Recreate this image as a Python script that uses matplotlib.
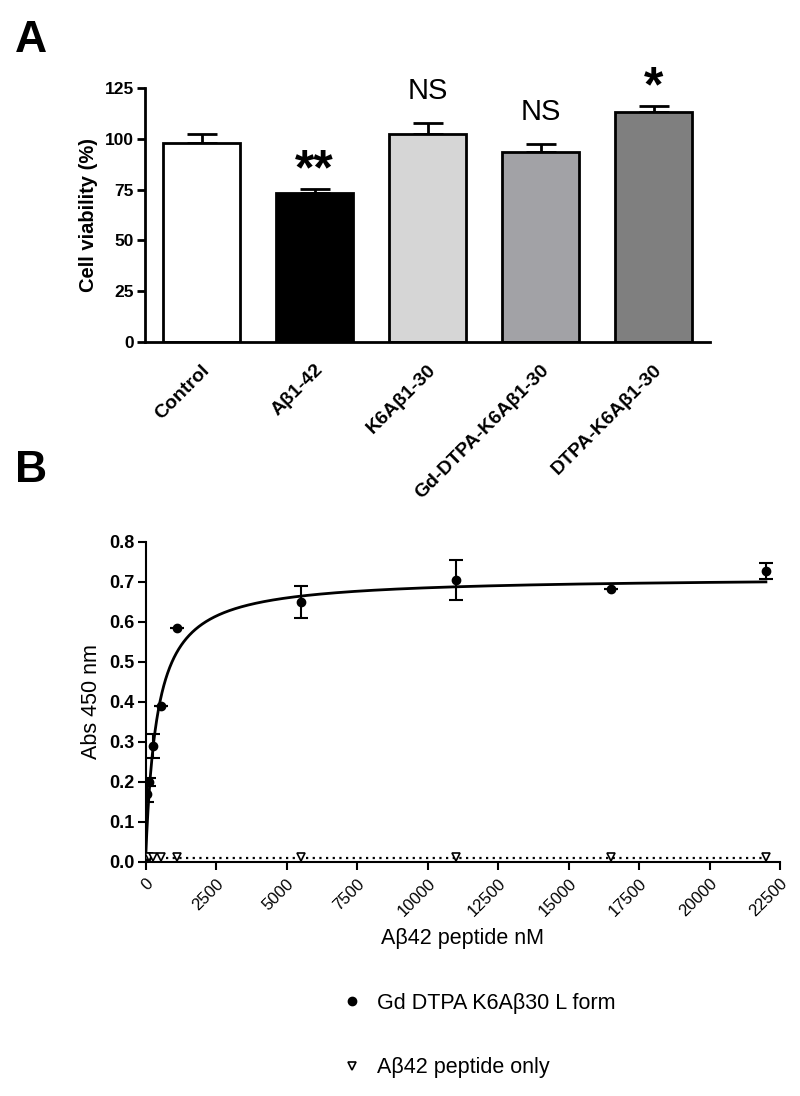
import numpy as np
import matplotlib
matplotlib.use("Agg")
import matplotlib.pyplot as plt
from matplotlib.lines import Line2D

plt.rcParams['font.family'] = ['Liberation Sans', 'DejaVu Sans']

# ---- Panel A data ----
groups = ["Control", "Aβ1-42", "K6Aβ1-30", "Gd-DTPA-K6Aβ1-30", "DTPA-K6Aβ1-30"]
viability = [97.8, 73.4, 102.2, 93.7, 113.3]
viability_err = [4.6, 1.9, 5.4, 3.6, 2.8]
bar_colors = ["#ffffff", "#000000", "#d6d6d6", "#a2a2a6", "#7f7f7f"]
sig_labels = ["", "**", "NS", "NS", "*"]
a_yticks = [0, 25, 50, 75, 100, 125]

# ---- Panel B data ----
gd_x = [0, 68.75, 137.5, 275, 550, 1100, 5500, 11000, 16500, 22000]
gd_y = [0.01, 0.17, 0.20, 0.29, 0.39, 0.585, 0.65, 0.706, 0.683, 0.727]
gd_err = [0.0, 0.02, 0.01, 0.03, 0.0, 0.0, 0.04, 0.05, 0.0, 0.02]
pep_x = [68.75, 137.5, 275, 550, 1100, 5500, 11000, 16500, 22000]
pep_y = [0.012, 0.012, 0.012, 0.012, 0.012, 0.012, 0.012, 0.012, 0.012]
fit_bmax = 0.713
fit_kd = 400.0
pep_level = 0.01
b_xticks = [0, 2500, 5000, 7500, 10000, 12500, 15000, 17500, 20000, 22500]
b_yticks = [0.0, 0.1, 0.2, 0.3, 0.4, 0.5, 0.6, 0.7, 0.8]

W, H = 800, 1096
fig = plt.figure(figsize=(W / 100, H / 100), dpi=100)

def fx(px):
    return px / W

def fy(py):
    return 1 - py / H

# ---------------- Panel A ----------------
axA = fig.add_axes([fx(145), fy(342), fx(710) - fx(145), fy(88) - fy(342)])
xpos = np.arange(len(groups))
axA.bar(xpos, viability, width=0.68, color=bar_colors, edgecolor="black",
        linewidth=2, zorder=2)
axA.errorbar(xpos, viability, yerr=[np.zeros(len(groups)), viability_err],
             fmt="none", ecolor="black", elinewidth=2, capsize=10.5,
             capthick=2, zorder=1)
axA.set_xlim(-0.5, 4.5)
axA.set_ylim(0, 125)
axA.set_yticks(a_yticks)
axA.set_yticklabels([str(v) for v in a_yticks], fontsize=12.5, fontweight="bold")
axA.set_xticks(xpos)
axA.set_xticklabels(groups, rotation=45, ha="right", va="top",
                    rotation_mode="anchor", fontsize=14, fontweight="bold")
axA.tick_params(axis="x", length=0, pad=14)
axA.tick_params(axis="y", length=6, width=2, direction="out", pad=2)
for s in ["top", "right"]:
    axA.spines[s].set_visible(False)
for s in ["left", "bottom"]:
    axA.spines[s].set_linewidth(2)
axA.set_ylabel("Cell viability (%)", fontsize=14.5, fontweight="bold", labelpad=5)
for i, lab in enumerate(sig_labels):
    if not lab:
        continue
    top = viability[i] + viability_err[i]
    if lab == "NS":
        axA.text(i, top + 9, lab, ha="center", va="bottom", fontsize=21)
    else:
        axA.text(i, top - 2.5, lab, ha="center", va="bottom", fontsize=36,
                 fontweight="bold")

fig.text(fx(15), fy(40), "A", fontsize=32, fontweight="bold", va="center")
fig.text(fx(15), fy(470), "B", fontsize=32, fontweight="bold", va="center")

# ---------------- Panel B ----------------
axB = fig.add_axes([fx(145.5), fy(862), fx(780) - fx(145.5), fy(542) - fy(862)])
xx = np.linspace(0, 22000, 2000)
axB.plot(xx, fit_bmax * xx / (fit_kd + xx), color="black", lw=2, zorder=3)
axB.plot([0, 22000], [pep_level, pep_level], color="black", lw=1.6,
         linestyle=(0, (1, 2)), zorder=2)
axB.errorbar(gd_x, gd_y, yerr=gd_err, fmt="o", color="black", markersize=6,
             elinewidth=1.5, capsize=5, capthick=1.5, zorder=4)
axB.plot(pep_x, pep_y, linestyle="none", marker="v", markersize=6,
         markerfacecolor="white", markeredgecolor="black", markeredgewidth=1.2,
         zorder=5)
axB.set_xlim(0, 22500)
axB.set_ylim(0, 0.8)
axB.set_xticks(b_xticks)
axB.set_xticklabels([str(v) for v in b_xticks], rotation=45, ha="right",
                    va="top", rotation_mode="anchor", fontsize=12)
axB.set_yticks(b_yticks)
axB.set_yticklabels([f"{v:.1f}" for v in b_yticks], fontsize=13,
                    fontweight="bold")
axB.tick_params(axis="both", length=6, width=1.5, direction="out", pad=2)
axB.tick_params(axis="x", pad=4)
for s in ["top", "right"]:
    axB.spines[s].set_visible(False)
for s in ["left", "bottom"]:
    axB.spines[s].set_linewidth(1.5)
axB.set_ylabel("Abs 450 nm", fontsize=15.5, labelpad=5)
axB.set_xlabel("Aβ42 peptide nM", fontsize=15.5, labelpad=6)

handles = [
    Line2D([], [], linestyle="none", marker="o", markersize=6, color="black"),
    Line2D([], [], linestyle="none", marker="v", markersize=6,
           markerfacecolor="white", markeredgecolor="black",
           markeredgewidth=1.2),
]
labels = ["Gd DTPA K6Aβ30 L form", "Aβ42 peptide only"]
fig.legend(handles, labels, loc="upper left",
           bbox_to_anchor=(fx(341), fy(993)), frameon=False, fontsize=15.5,
           handlelength=1.0, handletextpad=0.65, labelspacing=2.0,
           borderpad=0, borderaxespad=0)

fig.savefig("out.png", dpi=100)
